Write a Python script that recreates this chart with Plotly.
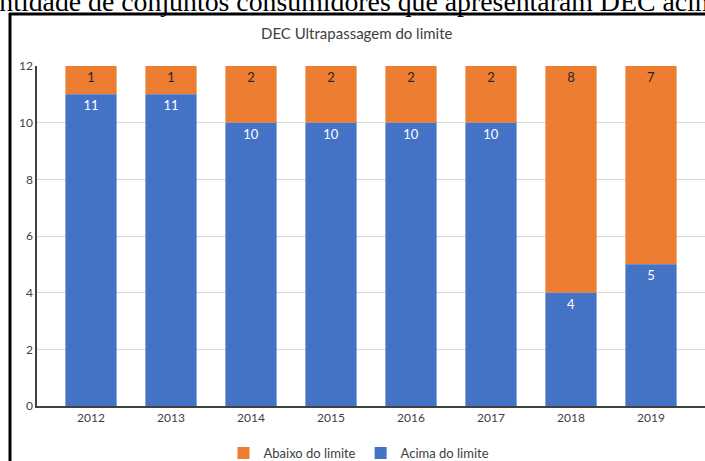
import plotly.graph_objects as go

years = ["2012", "2013", "2014", "2015", "2016", "2017", "2018", "2019"]
acima = [11, 11, 10, 10, 10, 10, 4, 5]
abaixo = [1, 1, 2, 2, 2, 2, 8, 7]
y_ticks = [0, 2, 4, 6, 8, 10, 12]

BLUE = "#4472C4"
ORANGE = "#ED7D31"

fig = go.Figure()
fig.add_trace(go.Bar(
    x=years, y=abaixo, name="Abaixo do limite", marker=dict(color=ORANGE, line=dict(width=0)),
    text=abaixo, textposition="inside", insidetextanchor="end",
    textfont=dict(color="#262626", size=13, family="Lato"),
    base=acima,
))
fig.add_trace(go.Bar(
    x=years, y=acima, name="Acima do limite", marker=dict(color=BLUE, line=dict(width=0)),
    text=acima, textposition="inside", insidetextanchor="end",
    textfont=dict(color="white", size=13, family="Lato"),
))

W, H = 705, 461
L, R, T, B = 37, 0, 66, 55
pw, ph = W - L - R, H - T - B

def px_x(x):
    return (x - L) / pw

def px_y(y):
    return (H - B - y) / ph

fig.update_layout(
    width=W, height=H,
    margin=dict(l=L, r=R, t=T, b=B, autoexpand=False),
    paper_bgcolor="white", plot_bgcolor="white",
    barmode="overlay", bargap=0.36,
    showlegend=True,
    legend=dict(orientation="h", x=px_x(359), xanchor="center", y=px_y(453), yanchor="middle",
                traceorder="normal",
                font=dict(size=13, family="Lato", color="#404040"), itemwidth=30,
                bgcolor="rgba(0,0,0,0)"),
    font=dict(family="Lato", color="#595959"),
    xaxis=dict(range=[-0.675, 7.675], showgrid=False, showline=True, linecolor="#404040",
               linewidth=1.5, ticks="", tickfont=dict(size=12, color="#404040")),
    yaxis=dict(range=[0, 12], tickvals=y_ticks, showgrid=True, gridcolor="#D9D9D9",
               gridwidth=1, showline=True, linecolor="#404040", linewidth=1.5, ticks="",
               tickfont=dict(size=12, color="#404040"), zeroline=False),
    shapes=[
        dict(type="line", xref="paper", yref="paper", x0=px_x(10), x1=px_x(10),
             y0=px_y(13), y1=px_y(470), line=dict(color="black", width=3)),
        dict(type="line", xref="paper", yref="paper", x0=px_x(9), x1=px_x(720),
             y0=px_y(14), y1=px_y(14), line=dict(color="black", width=3)),
    ],
    annotations=[
        dict(text="DEC Ultrapassagem do limite", xref="paper", yref="paper",
             x=px_x(357), y=px_y(33), xanchor="center", yanchor="middle", showarrow=False,
             font=dict(size=15, family="Lato", color="#404040")),
        dict(text="Quantidade de conjuntos consumidores que apresentaram DEC acima do limite",
             xref="paper", yref="paper", x=px_x(-49.5), y=px_y(19), xanchor="left",
             yanchor="bottom", showarrow=False,
             font=dict(size=27.8, family="Liberation Serif", color="black")),
    ],
)

fig.write_html("out.html")
